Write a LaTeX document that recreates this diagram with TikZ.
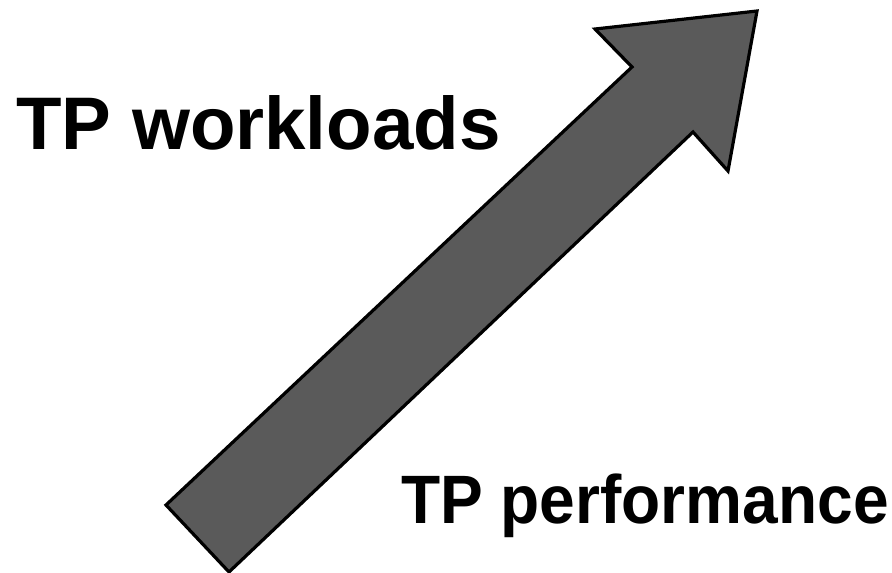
\documentclass[tikz,border=0pt]{standalone}
\usepackage{fontspec}
\setmainfont{Liberation Sans}
\begin{document}
\begin{tikzpicture}[x=1pt,y=-1pt,
  label/.style={font=\bfseries\fontsize{74.5}{80}\selectfont, inner sep=0pt, anchor=base west},
  bigarrow/.style={draw=black, line width=3.2pt, line join=miter, fill=arrowgray}]
\definecolor{arrowgray}{HTML}{5A5A5A}
\useasboundingbox (0,0) rectangle (892,573);
% thick block arrow rising to the upper right
\draw[bigarrow] (166,505) -- (632,67) -- (595,29) -- (757,11) -- (728,171)
  -- (693,132) -- (229,572) -- cycle;
\node[label] (work) at (16,149) {TP workloads};
\node[label, xscale=0.935, font=\bfseries\fontsize{68.5}{74}\selectfont] (perf) at (401,523) {TP performance};
\end{tikzpicture}
\end{document}
